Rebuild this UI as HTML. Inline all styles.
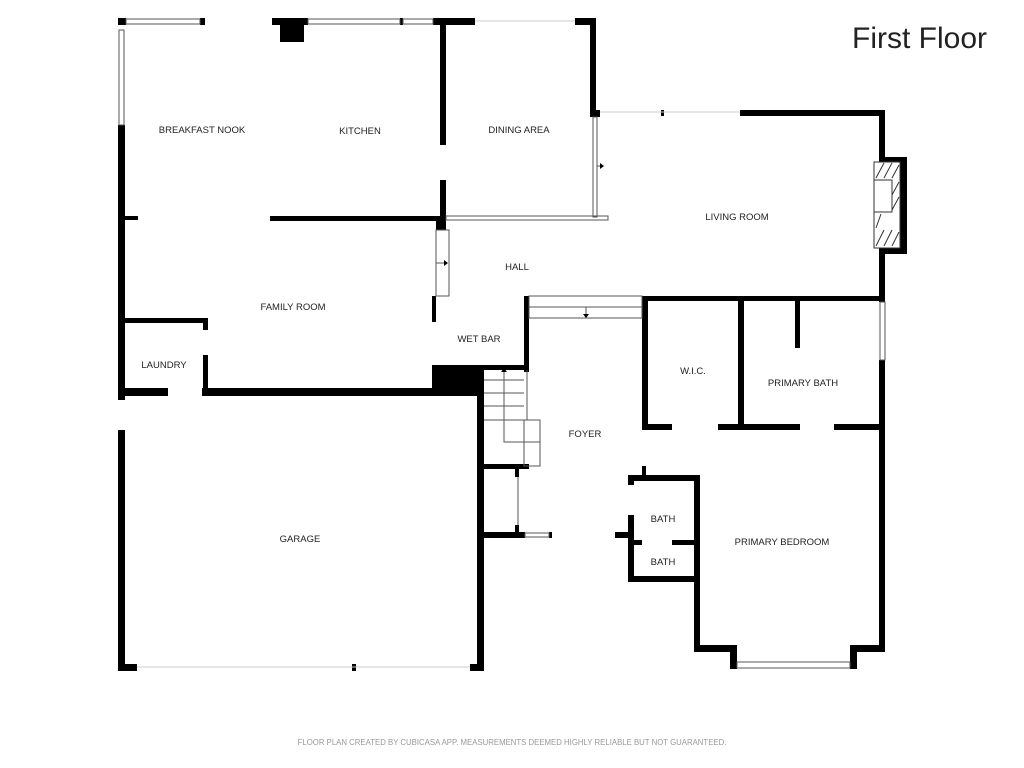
<!DOCTYPE html>
<html><head><style>
html,body{margin:0;padding:0;background:#fff;}
svg{display:block;}
text{font-family:"Liberation Sans",sans-serif;fill:#222;}
</style></head><body>
<svg width="1024" height="768" viewBox="0 0 1024 768" xmlns="http://www.w3.org/2000/svg">
<path fill="#000" d="M118 18h8v7h-8zM200 18h5v7h-5zM272 18h36v7h-36zM280 18h24v24h-24zM400 18h3v7h-3zM433 18h42v7h-42zM575 18h21v7h-21zM590 18h6v99h-6zM590 110h10v7h-10zM118 125h7v275h-7zM118 430h7v240h-7zM124 216h14v4h-14zM118 318h90v5h-90zM203 318h5v12h-5zM203 355h5v40h-5zM118 388h50v8h-50zM202 388h282v8h-282zM270 216h172v5h-172zM440 18h6v127h-6zM440 180h6v50h-6zM436 216h10v14h-10zM432 296h4v26h-4zM432 365h52v30h-52zM524 296h5v76h-5zM477 365h7v305h-7zM477 365h52v5h-52zM118 664h19v7h-19zM470 664h14v7h-14zM352 664h4v7h-4zM661 110h3v6h-3zM740 110h145v6h-145zM879 110h6v50h-6zM879 250h6v52h-6zM879 157h28v6h-28zM879 248h28v6h-28zM900 157h7v97h-7zM642 296h243v5h-243zM642 296h6v134h-6zM738 296h6v134h-6zM795 300h5v48h-5zM879 360h6v292h-6zM642 424h30v6h-30zM718 424h82v6h-82zM834 424h51v6h-51zM642 466h4v12h-4zM628 475h72v6h-72zM628 475h6v10h-6zM628 515h6v67h-6zM694 475h6v177h-6zM628 540h14v5h-14zM672 540h26v5h-26zM628 576h72v6h-72zM615 532h17v6h-17zM694 645h43v7h-43zM730 645h7v24h-7zM850 645h7v24h-7zM850 645h35v7h-35zM484 464h45v5h-45zM484 532h41v6h-41zM515 469h4v8h-4zM515 525h4v8h-4zM549 532h3v6h-3z"/>
<path fill="none" stroke="#555" stroke-width="1" d="M126 19h74v5h-74zM308 19h92v5h-92zM403 19h30v5h-30zM119 30h5v95h-5zM880 302h5v58h-5zM737 662h113v6h-113zM525 533h24v4h-24zM593 117h4v100h-4zM446 216h162v4h-162zM597 166h6M436 230h13v66h-13zM436 263h10M529 296h113v22h-113zM529 307h113M586 307v9M484 380h40M484 393h40M484 406h40M484 420h40M504 372v70h36M524 420h16v46h-16zM527 370v50M518 477v48"/>
<path fill="none" stroke="#ccc" stroke-width="1" d="M475 21h100M600 112h140M137 667h333"/>
<path fill="#000" d="M600 163v6l4-3zM444 260v6l4-3zM583 314h6l-3 4zM501 372h6l-3-4z"/>
<rect x="874" y="162" width="26" height="86" fill="#fff" stroke="#333"/>
<rect x="874" y="180" width="18" height="32" fill="#fff" stroke="#333"/>
<path stroke="#333" d="M876 178l8-15M884 178l8-15M892 178l7-13M892 195l7-13M892 210l7-13M876 246l8-16M884 246l8-16M892 246l7-14M876 228l5-14"/>
<g font-size="9.5" text-anchor="middle">
<text x="202" y="133">BREAKFAST NOOK</text>
<text x="360" y="134">KITCHEN</text>
<text x="519" y="133">DINING AREA</text>
<text x="737" y="220">LIVING ROOM</text>
<text x="517" y="270">HALL</text>
<text x="293" y="310">FAMILY ROOM</text>
<text x="479" y="342">WET BAR</text>
<text x="164" y="368">LAUNDRY</text>
<text x="693" y="374">W.I.C.</text>
<text x="803" y="386">PRIMARY BATH</text>
<text x="585" y="437">FOYER</text>
<text x="663" y="522">BATH</text>
<text x="782" y="545">PRIMARY BEDROOM</text>
<text x="663" y="565">BATH</text>
<text x="300" y="542">GARAGE</text>
</g>
<text x="852" y="48" font-size="30">First Floor</text>
<text x="512" y="745" font-size="7.8" text-anchor="middle" style="fill:#999">FLOOR PLAN CREATED BY CUBICASA APP. MEASUREMENTS DEEMED HIGHLY RELIABLE BUT NOT GUARANTEED.</text>
</svg>
</body></html>
